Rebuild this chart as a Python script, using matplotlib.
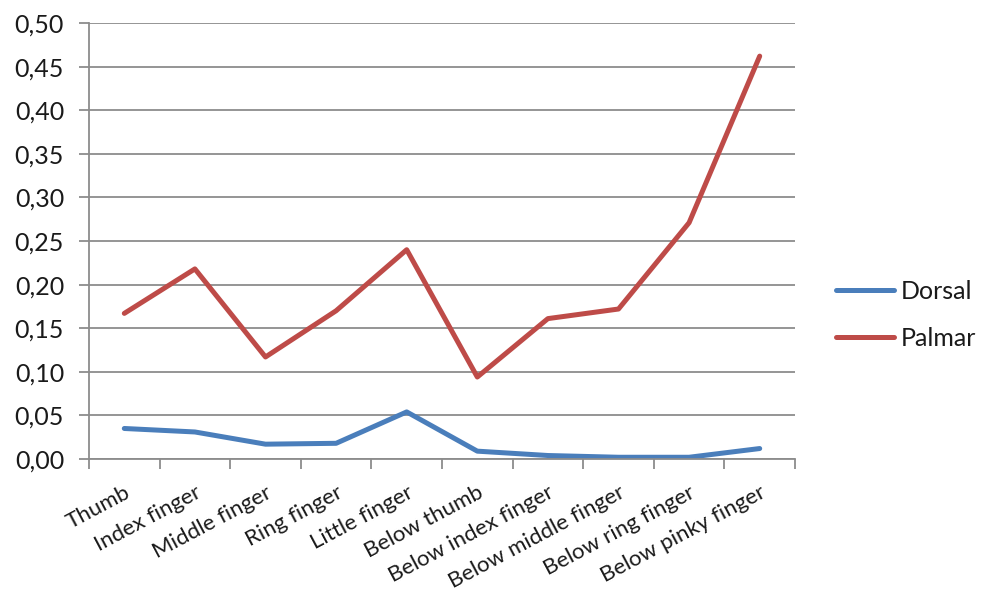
import matplotlib
matplotlib.use("Agg")
import matplotlib.pyplot as plt
import numpy as np
from matplotlib.ticker import FuncFormatter, MultipleLocator, FixedLocator

categories = ["Thumb", "Index finger", "Middle finger", "Ring finger", "Little finger",
              "Below thumb", "Below index finger", "Below middle finger",
              "Below ring finger", "Below pinky finger"]
dorsal = [0.035, 0.031, 0.017, 0.018, 0.054, 0.009, 0.004, 0.002, 0.002, 0.012]
palmar = [0.167, 0.218, 0.117, 0.170, 0.240, 0.094, 0.161, 0.172, 0.271, 0.462]

plt.rcParams['font.family'] = ['Lato', 'DejaVu Sans']

fig = plt.figure(figsize=(9.83, 5.96), dpi=100)
ax = fig.add_axes([89/983, 1 - 459/596, (795 - 89)/983, (459 - 23)/596])

x = np.arange(len(categories))
ax.plot(x, dorsal, color="#4A7EBB", lw=3.6, label="Dorsal", solid_joinstyle="round",
        solid_capstyle="round")
ax.plot(x, palmar, color="#BE4B48", lw=3.6, label="Palmar", solid_joinstyle="round",
        solid_capstyle="round")

ax.set_xlim(-0.5, len(categories) - 0.5)
ax.set_ylim(0, 0.5)
ax.yaxis.set_major_locator(MultipleLocator(0.05))
ax.yaxis.set_major_formatter(FuncFormatter(lambda v, p: f"{v:.2f}".replace(".", ",")))
ax.grid(axis="y", color="#8c8c8c", lw=1.3)
ax.set_axisbelow(True)

ax.xaxis.set_major_locator(FixedLocator(np.arange(-0.5, len(categories), 1.0)))
ax.xaxis.set_major_formatter(FuncFormatter(lambda v, p: ""))
ax.set_xticks(x, minor=True)
ax.set_xticklabels(categories, minor=True, rotation=28, ha="right", va="top",
                   rotation_mode="anchor", fontsize=16, color="#1a1a1a")
ax.tick_params(axis="x", which="minor", length=0, pad=17)
ax.tick_params(axis="x", which="major", length=7, color="#8c8c8c", width=1.3)
ax.tick_params(axis="y", length=7, color="#8c8c8c", width=1.3, labelsize=18, pad=11,
               labelcolor="#1a1a1a")

for s in ["top", "right"]:
    ax.spines[s].set_visible(False)
for s in ["left", "bottom"]:
    ax.spines[s].set_color("#8c8c8c")
    ax.spines[s].set_linewidth(1.3)

leg = fig.legend(loc="center left", bbox_to_anchor=(836/983, 1 - 315/596), frameon=False,
                 fontsize=18, handlelength=2.3, labelspacing=0.95, handletextpad=0.3,
                 borderpad=0, borderaxespad=0)
for t in leg.get_texts():
    t.set_color("#1a1a1a")

fig.savefig("out.png", dpi=100)
